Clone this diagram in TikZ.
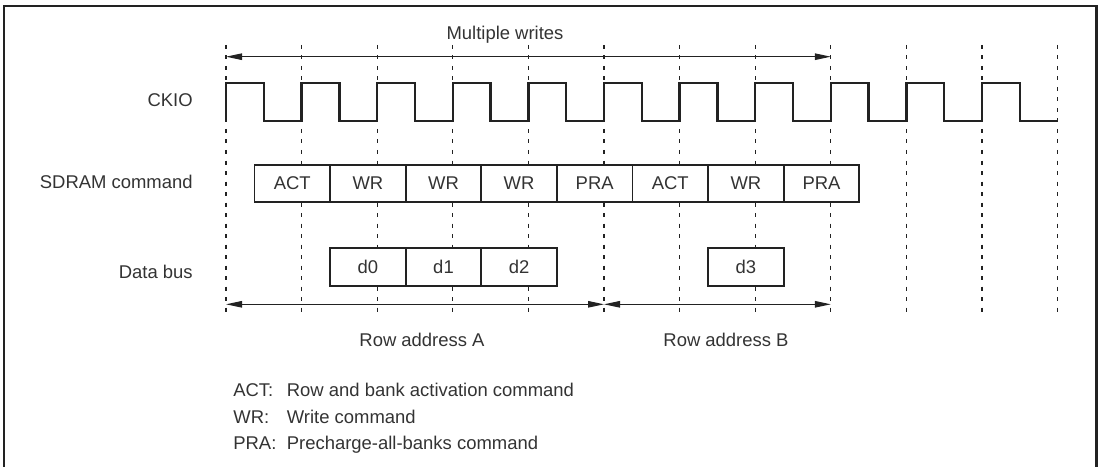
\documentclass[tikz,border=0pt]{standalone}
\usepackage{fontspec}
\setmainfont{Liberation Sans}
\usepackage{xcolor}
\usepackage{tikz}
\usetikzlibrary{arrows.meta}
\definecolor{ink}{HTML}{222222}
\definecolor{txt}{HTML}{333333}

\begin{document}
\begin{tikzpicture}[
  x=0.2mm,y=-0.2mm,
  font=\fontsize{10.5}{12}\selectfont,
  every node/.style={text=txt},
  cmd/.style={draw=ink,fill=white,line width=1.1pt,minimum width=15.12mm,minimum height=7.5mm,inner sep=0pt},
  lbl/.style={anchor=base east,inner sep=0pt},
  key/.style={anchor=base west,inner sep=0pt},
  tick/.style={draw=ink,line width=0.7pt,dash pattern=on 0.8mm off 1.3mm},
  clk/.style={draw=ink,line width=1.3pt,line join=miter},
  darr/.style={{Triangle[length=3.2mm,width=1.3mm]}-{Triangle[length=3.2mm,width=1.3mm]},line width=0.6pt,draw=ink}
]
\useasboundingbox (0,0) rectangle (1100,467);
% frame, cut off at the bottom
\draw[ink,line width=1.6pt] (4,480) -- (4,6) -- (1096.5,6) -- (1096.5,480);

% clock edges
\foreach \k in {0,...,11} {
  \draw[tick] ({226+75.6*\k},45) -- ++(0,270);
  \coordinate (mw\k) at ({226+75.6*\k},56.7);
  \coordinate (ra\k) at ({226+75.6*\k},304.3);
}

% signal names
\node[lbl] (ckio) at (193,106.6) {CKIO};
\node[lbl] (sdram) at (193,188.3) {SDRAM command};
\node[lbl] (dbus) at (193,278.5) {Data bus};

% CKIO waveform
\draw[clk] (226,120.7) \foreach \k in {0,...,10} { -- ++(0,-37.7) -- ++(37.8,0) -- ++(0,37.7) -- ++(37.8,0) };

% commands
\foreach \c [count=\i] in {ACT,WR,WR,WR,PRA,ACT,WR,PRA}
  \node[cmd] (c\i) at ({254.5+75.6*(\i-0.5)},183.5) {\c};

% data
\node[cmd] (d0) at (c2 |- 0,267) {d0};
\node[cmd] (d1) at (c3 |- 0,267) {d1};
\node[cmd] (d2) at (c4 |- 0,267) {d2};
\node[cmd] (d3) at (c7 |- 0,267) {d3};

% spans
\draw[darr] (mw0) -- (mw8);
\node[anchor=base] (mwl) at (505,39.6) {Multiple writes};
\draw[darr] (ra0) -- (ra5);
\draw[darr] (ra5) -- (ra8);
\node[anchor=base] (rowa) at (422,346.6) {Row address A};
\node[anchor=base] (rowb) at (726,346.6) {Row address B};

% legend
\node[key] (kact) at (233,396.6) {ACT:};
\node[key] (kwr)  at (233,423.2) {WR:};
\node[key] (kpra) at (233,449) {PRA:};
\node[key] (tact) at (286.5,396.6) {Row and bank activation command};
\node[key] (twr)  at (286.5,423.2) {Write command};
\node[key] (tpra) at (286.5,449) {Precharge-all-banks command};
\end{tikzpicture}
\end{document}
